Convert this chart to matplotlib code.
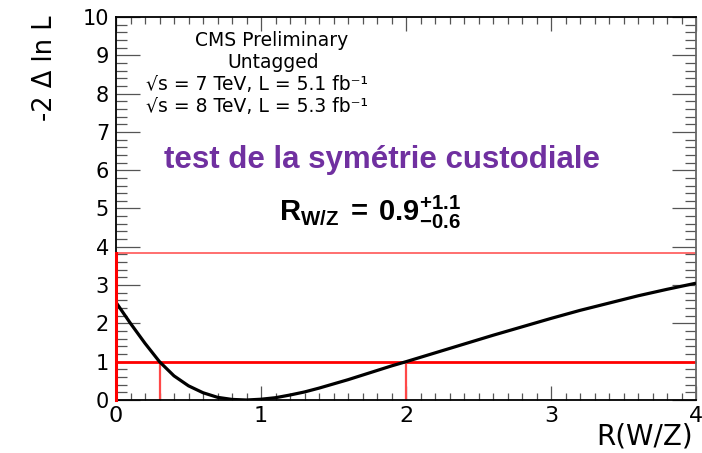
import matplotlib
matplotlib.use("Agg")
import matplotlib.pyplot as plt
from matplotlib.ticker import MultipleLocator

plt.rcParams["font.family"] = ["DejaVu Sans"]
plt.rcParams["mathtext.fontset"] = "custom"
plt.rcParams["mathtext.rm"] = "Liberation Sans"
plt.rcParams["mathtext.bf"] = "Liberation Sans:bold"
plt.rcParams["mathtext.it"] = "Liberation Sans:italic"

# Likelihood scan of R(W/Z)
r_values = [0.0, 0.1, 0.2, 0.3, 0.4, 0.5, 0.6, 0.7, 0.8, 0.9,
            1.0, 1.1, 1.2, 1.3, 1.4, 1.5, 1.6, 1.7, 1.8, 1.9,
            2.0, 2.2, 2.4, 2.6, 2.8, 3.0, 3.2, 3.4, 3.6, 3.8, 4.0]
nll_values = [2.55, 2.00, 1.48, 1.00, 0.63, 0.37, 0.19, 0.07, 0.015, 0.0,
              0.02, 0.06, 0.13, 0.21, 0.31, 0.42, 0.53, 0.65, 0.77, 0.89,
              1.00, 1.23, 1.46, 1.69, 1.91, 2.13, 2.34, 2.53, 2.72, 2.89, 3.05]

best_fit = 0.9
err_up = 1.1
err_down = 0.6
level_68 = 1.0
level_95 = 3.84

x_range = (0, 4)
y_range = (0, 10)
x_ticks = [0, 1, 2, 3, 4]
y_ticks = [0, 1, 2, 3, 4, 5, 6, 7, 8, 9, 10]

fig = plt.figure(figsize=(7.02, 4.53), dpi=100)
ax = fig.add_axes([116 / 702, 1 - 400 / 453, 580 / 702, 383 / 453])

ax.set_xlim(*x_range)
ax.set_ylim(*y_range)

red = "#ff0000"
light_red = "#ff4848"

# confidence-level lines
ax.axhline(level_95, color=light_red, lw=1.1, zorder=2)
ax.axhline(level_68, color=red, lw=2.0, zorder=2)
ax.plot([x_range[0], x_range[0]], [0, level_95], color=red, lw=2.2,
        zorder=4, clip_on=False)
lo = best_fit - err_down
hi = best_fit + err_up
ax.plot([lo, lo], [0, level_68], color=light_red, lw=1.6, zorder=2)
ax.plot([hi, hi], [0, level_68], color=light_red, lw=1.6, zorder=2)

ax.plot(r_values, nll_values, color="black", lw=2.3, zorder=3,
        solid_capstyle="butt")

# axes styling
ax.set_xticks(x_ticks)
ax.set_yticks(y_ticks)
ax.xaxis.set_minor_locator(MultipleLocator(0.1))
ax.yaxis.set_minor_locator(MultipleLocator(0.2))
ax.tick_params(axis="both", which="both", direction="in", top=True,
               right=True, color="#555555", width=0.9)
ax.tick_params(axis="y", which="major", length=17, labelsize=15, pad=5)
ax.tick_params(axis="y", which="minor", length=8)
ax.tick_params(axis="x", which="major", length=10, labelsize=16, pad=4)
ax.tick_params(axis="x", which="minor", length=5)
for side in ["left", "bottom", "top"]:
    ax.spines[side].set_linewidth(1.3)
ax.spines["right"].set_color("#666666")
ax.spines["right"].set_linewidth(1.3)

fig.text(45 / 702, 1 - 15 / 453, "-2 \u0394 ln L", rotation=90,
         ha="center", va="top", fontsize=18.5)
fig.text(693 / 702, 1 - 437 / 453, "R(W/Z)", ha="right", va="center",
         fontsize=20)

# annotations
fig.text(272 / 702, 1 - 40 / 453, "CMS Preliminary", fontsize=13.5,
         ha="center", va="center")
fig.text(273 / 702, 1 - 63 / 453, "Untagged", fontsize=13.5,
         ha="center", va="center")
fig.text(146 / 702, 1 - 85 / 453, "\u221as = 7 TeV, L = 5.1 fb\u207b\u00b9",
         fontsize=13.5, ha="left", va="center")
fig.text(146 / 702, 1 - 106 / 453, "\u221as = 8 TeV, L = 5.3 fb\u207b\u00b9",
         fontsize=13.5, ha="left", va="center")

fig.text(382 / 702, 1 - 160 / 453, "test de la sym\u00e9trie custodiale",
         family="Liberation Sans", fontsize=22.5, fontweight="bold",
         color="#7030a0", ha="center", va="center")

result = (r"$\mathbf{R}_{\mathbf{W/Z}}\;\mathbf{=}\;\mathbf{%.1f}"
          r"^{\mathbf{+%.1f}}_{\mathbf{-%.1f}}$" % (best_fit, err_up, err_down))
fig.text(370 / 702, 1 - 212 / 453, result, fontsize=21,
         math_fontfamily="custom", ha="center", va="center")

fig.savefig("out.png", dpi=100)
